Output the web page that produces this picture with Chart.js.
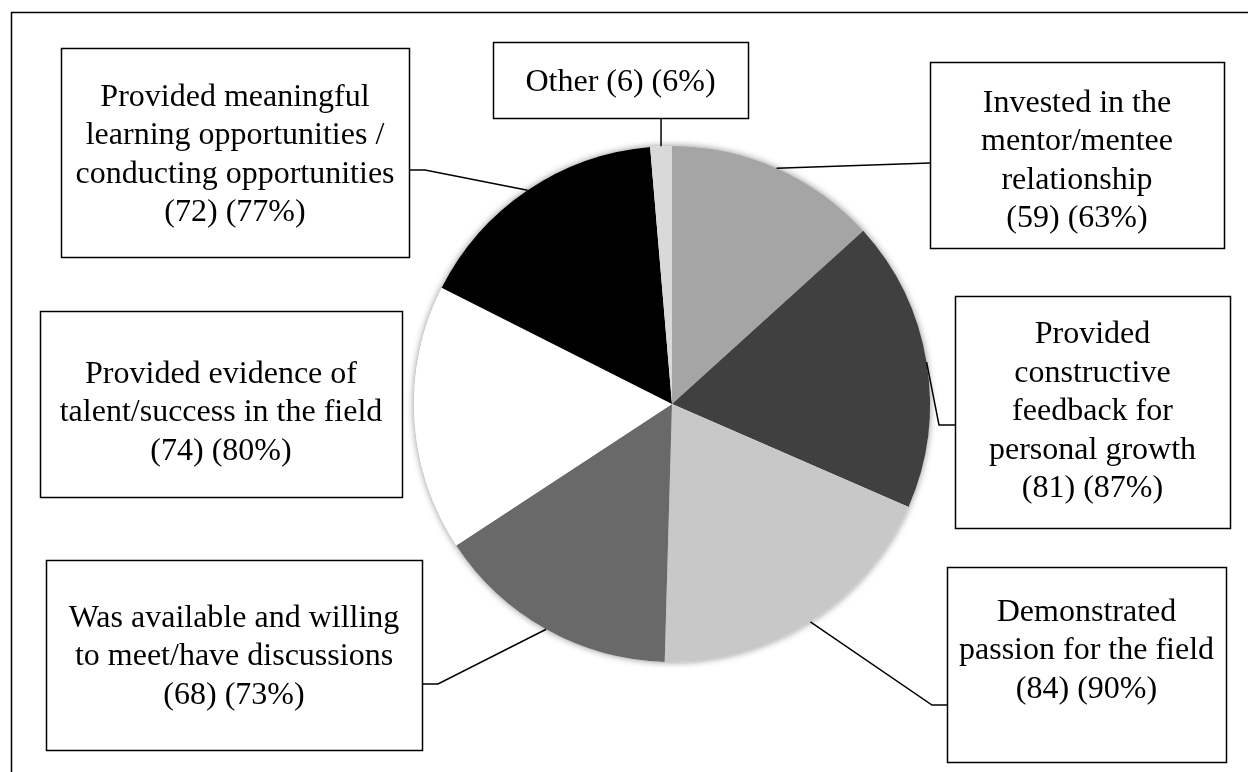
<!DOCTYPE html>
<html>
<head>
<meta charset="utf-8">
<script src="https://cdn.jsdelivr.net/npm/chart.js@4/dist/chart.umd.min.js"></script>
<style>
  html, body { margin: 0; padding: 0; background: #fff; }
  canvas { display: block; }
</style>
</head>
<body>
<canvas id="chart" width="1248" height="772"></canvas>
<script>
// mentor qualities, clockwise from 12 o'clock
const categories = [
  'Invested in the mentor/mentee relationship',
  'Provided constructive feedback for personal growth',
  'Demonstrated passion for the field',
  'Was available and willing to meet/have discussions',
  'Provided evidence of talent/success in the field',
  'Provided meaningful learning opportunities / conducting opportunities',
  'Other',
];
const counts = [59, 81, 84, 68, 74, 72, 6];
const percents = [63, 87, 90, 73, 80, 77, 6];

// wrapped label text, one entry per slice
const labelLines = [
  ['Invested in the', 'mentor/mentee', 'relationship'],
  ['Provided', 'constructive', 'feedback for', 'personal growth'],
  ['Demonstrated', 'passion for the field'],
  ['Was available and willing', 'to meet/have discussions'],
  ['Provided evidence of', 'talent/success in the field'],
  ['Provided meaningful', 'learning opportunities /', 'conducting opportunities'],
  ['Other'],
];

const sliceColors = ['#a5a5a5', '#404040', '#c8c8c8', '#696969', '#ffffff', '#000000', '#d9d9d9'];

// callout boxes: frame, text centre line and the elbow of each leader line
const boxes = [
  { x: 930, y: 62, w: 294, h: 186, ty: 161, leader: [[930, 163]] },
  { x: 955, y: 296, w: 275, h: 232, ty: 412, leader: [[939, 425], [955, 425]] },
  { x: 947, y: 567, w: 279, h: 195, ty: 651, leader: [[932, 705], [947, 705]] },
  { x: 46, y: 560, w: 376, h: 190, ty: 657, leader: [[438, 684], [422, 684]] },
  { x: 40, y: 311, w: 362, h: 186, ty: 413, leader: null },
  { x: 61, y: 48, w: 348, h: 209, ty: 155, leader: [[425, 170], [409, 170]] },
  { x: 493, y: 42, w: 255, h: 76, ty: 83, leader: 'up' },
];

const FONT = '32px "Liberation Serif", "Times New Roman", serif';
const LINE_H = 38.5;

const pieShadow = {
  id: 'pieShadow',
  beforeDatasetsDraw(chart) {
    const arc = chart.getDatasetMeta(0).data[0];
    const ctx = chart.ctx;
    ctx.save();
    ctx.shadowColor = 'rgba(0,0,0,0.45)';
    ctx.shadowBlur = 7;
    ctx.fillStyle = '#fff';
    ctx.beginPath();
    ctx.arc(arc.x, arc.y, arc.outerRadius, 0, Math.PI * 2);
    ctx.fill();
    ctx.restore();
  },
};

const callouts = {
  id: 'callouts',
  afterDraw(chart) {
    const ctx = chart.ctx;
    const arcs = chart.getDatasetMeta(0).data;
    ctx.save();
    ctx.strokeStyle = '#000';
    ctx.lineWidth = 1.5;

    // outer frame (top and left edges fall inside the canvas)
    ctx.beginPath();
    ctx.moveTo(11.5, 772);
    ctx.lineTo(11.5, 12.5);
    ctx.lineTo(1248, 12.5);
    ctx.stroke();

    ctx.font = FONT;
    ctx.fillStyle = '#000';
    ctx.textAlign = 'center';
    ctx.textBaseline = 'middle';

    boxes.forEach((b, i) => {
      const a = arcs[i];
      const mid = (a.startAngle + a.endAngle) / 2;
      const px = a.x + Math.cos(mid) * a.outerRadius;
      const py = a.y + Math.sin(mid) * a.outerRadius;
      if (b.leader === 'up') {
        ctx.beginPath();
        ctx.moveTo(px, py);
        ctx.lineTo(px, b.y + b.h);
        ctx.stroke();
      } else if (b.leader) {
        ctx.beginPath();
        ctx.moveTo(px, py);
        b.leader.forEach(p => ctx.lineTo(p[0], p[1]));
        ctx.stroke();
      }

      ctx.fillStyle = '#fff';
      ctx.fillRect(b.x, b.y, b.w, b.h);
      ctx.strokeRect(b.x + 0.5, b.y + 0.5, b.w, b.h);
      ctx.fillStyle = '#000';

      const tail = `(${counts[i]}) (${percents[i]}%)`;
      let lines = labelLines[i].slice();
      if (i === 6) lines = [lines[0] + ' ' + tail];
      else lines.push(tail);
      const cx = b.x + b.w / 2;
      const top = b.ty - (lines.length - 1) * LINE_H / 2;
      lines.forEach((t, k) => ctx.fillText(t, cx, top + k * LINE_H));
    });
    ctx.restore();
  },
};

new Chart(document.getElementById('chart'), {
  type: 'pie',
  data: {
    labels: categories,
    datasets: [{
      data: counts,
      backgroundColor: sliceColors,
      borderWidth: 0,
    }],
  },
  options: {
    responsive: false,
    devicePixelRatio: 1,
    animation: false,
    layout: { padding: { left: 414, right: 318, top: 146, bottom: 110 } },
    plugins: {
      legend: { display: false },
      tooltip: { enabled: false },
    },
  },
  plugins: [pieShadow, callouts],
});
</script>
</body>
</html>
